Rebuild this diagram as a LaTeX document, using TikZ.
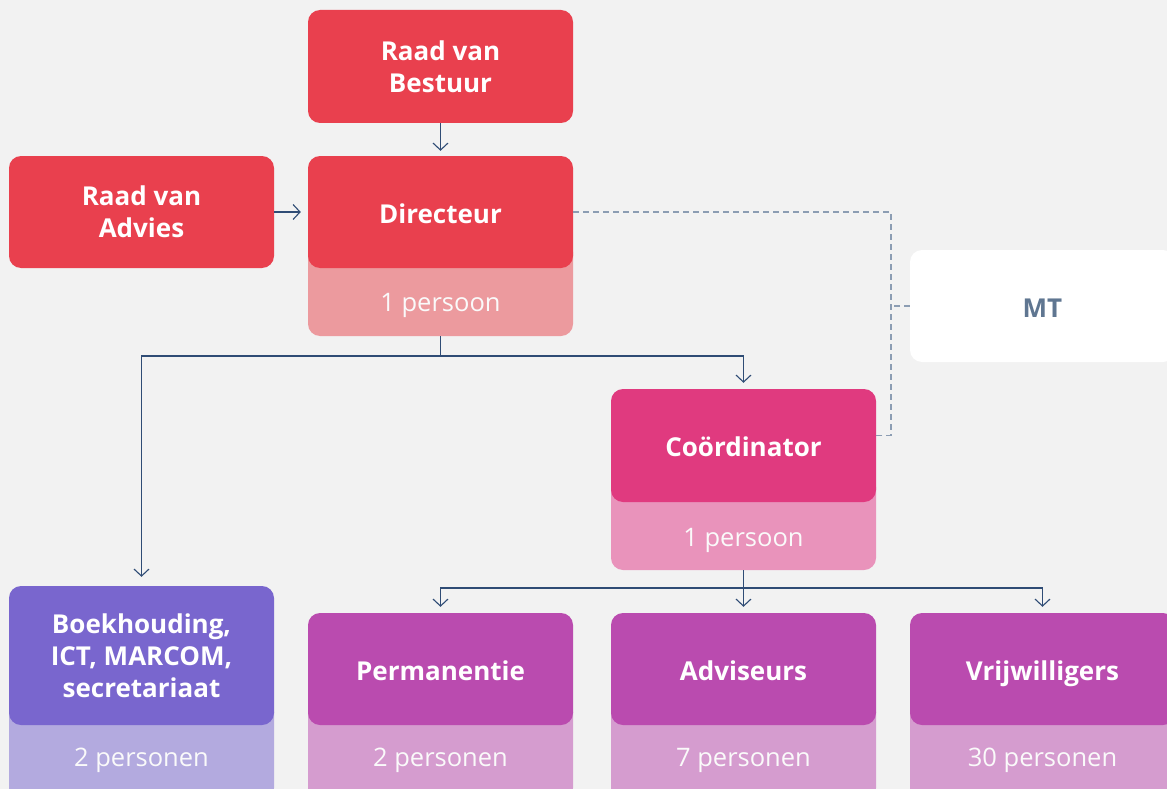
\documentclass[tikz,border=0pt]{standalone}
\usepackage{fontspec}
\setmainfont{Open Sans}
\usetikzlibrary{arrows.meta,calc}
\definecolor{bg}{HTML}{F2F2F2}
\definecolor{cred}{HTML}{E9404E}
\definecolor{lred}{HTML}{EC9A9E}
\definecolor{cpink}{HTML}{E03A7F}
\definecolor{lpink}{HTML}{E993BB}
\definecolor{cpurp}{HTML}{7966CE}
\definecolor{lpurp}{HTML}{B3AADF}
\definecolor{cmag}{HTML}{BA4BAF}
\definecolor{lmag}{HTML}{D59CCF}
\definecolor{cline}{HTML}{2F4C75}
\definecolor{cdash}{HTML}{8C9DB3}
\definecolor{cmt}{HTML}{5F7691}
\tikzset{
  box/.style={rounded corners=12pt, minimum width=265pt, minimum height=112pt, inner sep=0pt,
     text=white, align=center, font=\fontsize{26}{32}\selectfont\bfseries},
  single/.style={text height=22pt, text depth=0pt},
  subbox/.style={rounded corners=12pt, minimum width=265pt, inner sep=0pt},
  sublabel/.style={anchor=base, inner sep=0pt, text=white!96!gray, font=\fontsize{25.5}{30}\selectfont},
  arr/.style={draw=cline, line width=1.1pt, -{Straight Barb[length=7pt,width=15pt,line width=1.1pt]}},
  conn/.style={draw=cline, line width=1.1pt},
  dashline/.style={draw=cdash, line width=1.1pt, dash pattern=on 6pt off 4pt}
}
\begin{document}
\begin{tikzpicture}[x=1pt,y=-1pt]
\fill[bg] (0,0) rectangle (1167,789);
\useasboundingbox (0,0) rectangle (1167,789);
% top row
\node[box, fill=cred, minimum height=113pt] (bestuur) at (440.5,66.5) {Raad van\\Bestuur};
\node[box, fill=cred] (advies) at (141.5,212) {Raad van\\Advies};
\node[subbox, fill=lred, minimum height=96pt] (dirsub) at (440.5,288) {};
\node[sublabel] (dirlab) at (440.5,311.5) {1 persoon};
\node[box, single, fill=cred] (dir) at (440.5,212) {Directeur};
\node[box, single, fill=white, text=cmt] (mt) at (1042.5,306) {MT};
% coordinator
\node[subbox, fill=lpink, minimum height=95pt] (coordsub) at (743.5,522.5) {};
\node[sublabel] (coordlab) at (743.5,546.5) {1 persoon};
\node[box, single, fill=cpink, minimum height=113pt] (coord) at (743.5,445.5) {Coördinator};
% bottom row
\node[subbox, fill=lpurp, minimum height=100pt] (boeksub) at (141.5,750) {};
\node[sublabel] (boeklab) at (141.5,766.5) {2 personen};
\node[box, fill=cpurp, minimum height=139pt] (boek) at (141.5,655.5) {Boekhouding,\\ICT, MARCOM,\\secretariaat};
\node[subbox, fill=lmag, minimum height=100pt] (permsub) at (440.5,750) {};
\node[sublabel] (permlab) at (440.5,766.5) {2 personen};
\node[box, single, fill=cmag] (perm) at (440.5,669) {Permanentie};
\node[subbox, fill=lmag, minimum height=100pt] (advsub) at (743.5,750) {};
\node[sublabel] (advlab) at (743.5,766.5) {7 personen};
\node[box, single, fill=cmag] (adv) at (743.5,669) {Adviseurs};
\node[subbox, fill=lmag, minimum height=100pt] (vrijsub) at (1042.5,750) {};
\node[sublabel] (vrijlab) at (1042.5,766.5) {30 personen};
\node[box, single, fill=cmag] (vrij) at (1042.5,669) {Vrijwilligers};
% connectors
\draw[arr, shorten >=5pt] (bestuur.south) -- (dir.north);
\draw[arr, shorten >=7pt] (advies.east) -- (dir.west);
\coordinate (j1) at (440.5,356);
\draw[conn] (dirsub.south) -- (j1);
\draw[arr, shorten >=9pt] (j1) -| (boek.north);
\draw[arr, shorten >=6pt] (j1) -| (coord.north);
\coordinate (j2) at (743.5,588);
\draw[conn] (coordsub.south) -- (j2);
\draw[arr, shorten >=6pt] (j2) -| (perm.north);
\draw[arr, shorten >=6pt] (j2) -- (adv.north);
\draw[arr, shorten >=6pt] (j2) -| (vrij.north);
% dashed MT links
\coordinate (dv) at (891,212);
\draw[dashline] (dir.east) -- (dv) |- ([yshift=10pt]coord.east);
\draw[dashline] (mt.west) -- (mt.west -| dv);
\end{tikzpicture}
\end{document}
